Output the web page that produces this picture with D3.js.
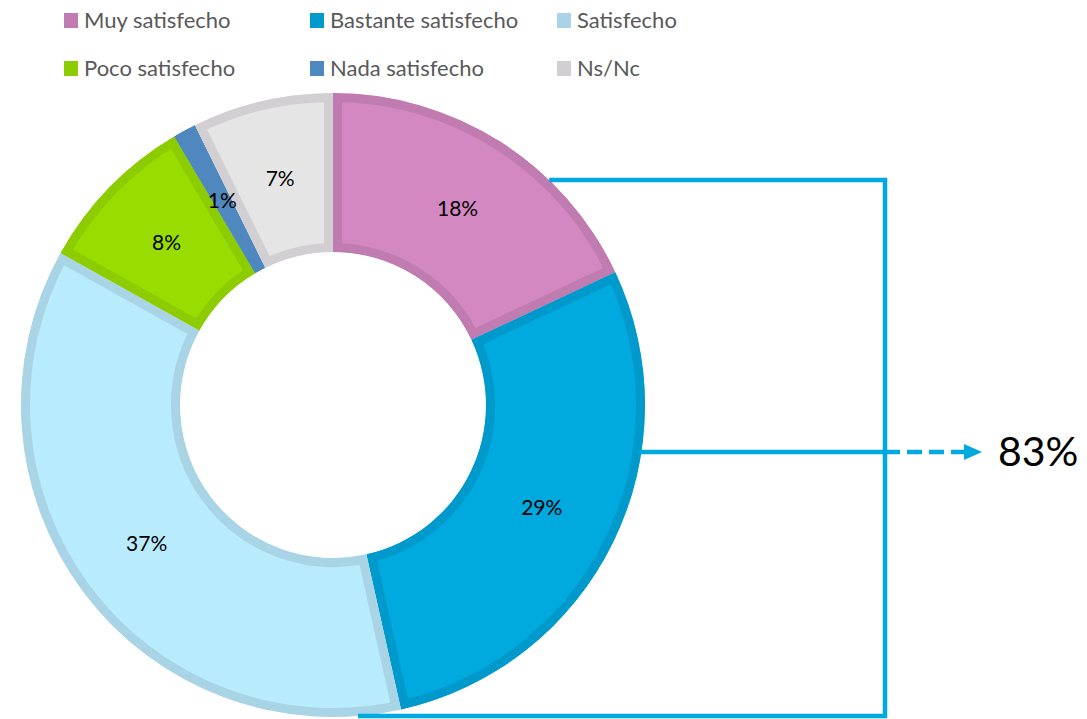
<!DOCTYPE html>
<html><head><meta charset="utf-8">
<script src="https://cdn.jsdelivr.net/npm/d3@7"></script>
<style>body{margin:0;background:#fff}svg{display:block}</style>
</head><body>
<svg id="c" width="1087" height="719"></svg>
<script>
const categories = ["Muy satisfecho","Bastante satisfecho","Satisfecho","Poco satisfecho","Nada satisfecho","Ns/Nc"];
const values = [18.0, 28.5, 36.6, 8.4, 1.2, 7.3];
const labels = ["18%","29%","37%","8%","1%","7%"];
const fillColors = ["#D488C2","#00A9DE","#B8EBFC","#99DD00","#4F88BE","#E6E5E6"];
const edgeColors = ["#C07CB0","#0099CC","#A8D4E6","#8DCC00","#4F88BE","#D1CFD1"];
const totalLabel = "83%";

const svg = d3.select("#c");
const cx = 333, cy = 405, rOut = 312, rIn = 153;
const g = svg.append("g").attr("transform", `translate(${cx},${cy})`);
const pie = d3.pie().sort(null).value(d => d)(values);
const arc = d3.arc().innerRadius(rIn).outerRadius(rOut);
const defs = svg.append("defs");

pie.forEach((p, i) => {
  const d = arc(p);
  defs.append("clipPath").attr("id", "cp" + i).append("path").attr("d", d);
  g.append("path").attr("d", d).attr("fill", fillColors[i])
    .attr("stroke", edgeColors[i]).attr("stroke-width", 18)
    .attr("clip-path", `url(#cp${i})`);
});
pie.forEach((p, i) => {
  const c = arc.centroid(p);
  g.append("text").attr("x", c[0]).attr("y", c[1]).attr("dy", "0.35em")
    .attr("text-anchor", "middle").attr("font-family", "Lato, sans-serif")
    .attr("font-size", 21).attr("fill", "#000").text(labels[i]);
});

// legend
const legX = [64, 310, 557], legY = [20, 68];
categories.forEach((c, i) => {
  const x = legX[i % 3], y = legY[Math.floor(i / 3)];
  svg.append("rect").attr("x", x).attr("y", y - 7).attr("width", 14).attr("height", 15).attr("fill", edgeColors[i]);
  svg.append("text").attr("x", x + 20).attr("y", y).attr("dy", "0.36em")
    .attr("font-family", "Lato, sans-serif").attr("font-size", 22).attr("fill", "#595959").text(c);
});

// bracket
const blue = "#00A9E0";
const yTop = 180, yMid = 452, yBot = 716, xV = 885;
const xEdge = y => cx + Math.sqrt(rOut * rOut - (y - cy) * (y - cy));
const br = svg.append("g").attr("stroke", blue).attr("stroke-width", 4.5).attr("fill", "none");
br.append("line").attr("x1", xEdge(yTop)).attr("y1", yTop).attr("x2", xV + 2).attr("y2", yTop);
br.append("line").attr("x1", xV).attr("y1", yTop - 2).attr("x2", xV).attr("y2", yBot + 2);
br.append("line").attr("x1", 358).attr("y1", yBot).attr("x2", xV + 2).attr("y2", yBot);
br.append("line").attr("x1", xEdge(yMid) - 2).attr("y1", yMid).attr("x2", xV).attr("y2", yMid);
br.append("line").attr("x1", xV).attr("y1", yMid).attr("x2", 965).attr("y2", yMid)
  .attr("stroke-dasharray", "15 7");
svg.append("path").attr("d", `M964,${yMid - 8} L982,${yMid} L964,${yMid + 8} Z`).attr("fill", blue);
svg.append("text").attr("x", 998).attr("y", yMid).attr("dy", "0.35em")
  .attr("font-family", "Lato, sans-serif").attr("font-size", 41).attr("fill", "#000").text(totalLabel);
</script>
</body></html>
